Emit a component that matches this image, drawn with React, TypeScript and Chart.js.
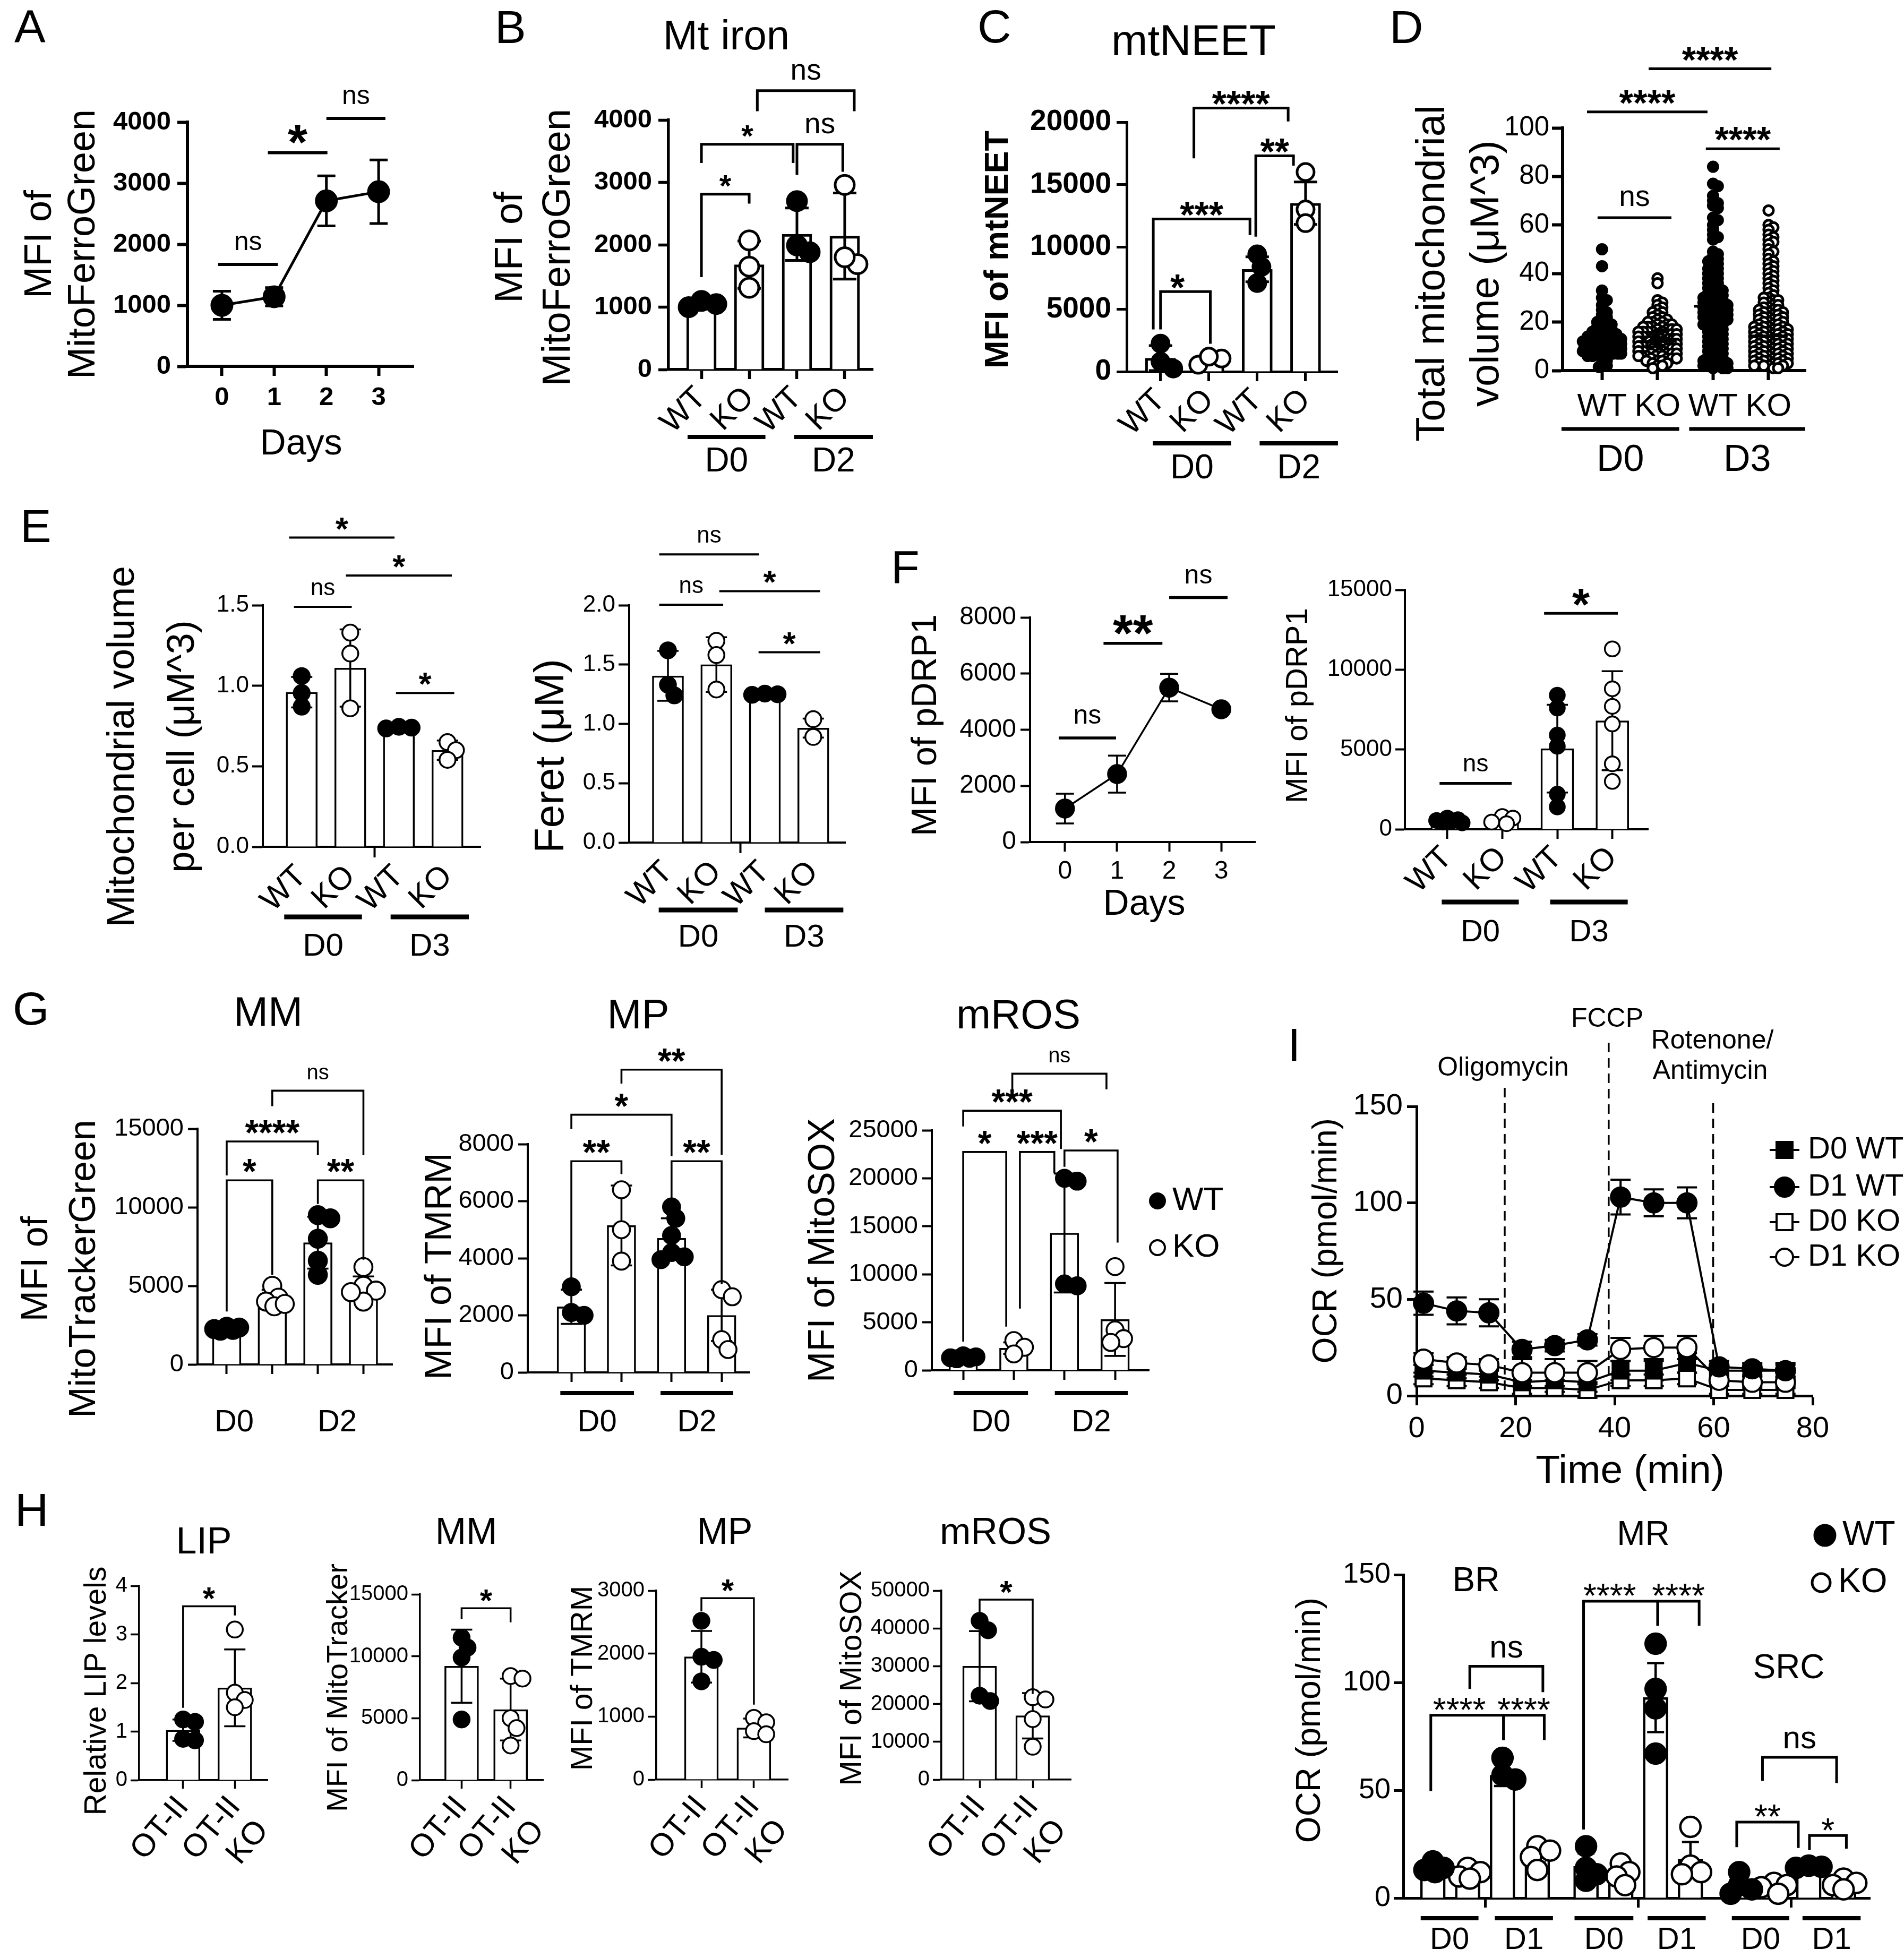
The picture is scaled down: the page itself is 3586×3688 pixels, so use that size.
import React, { useEffect, useRef } from 'react';
import { Chart, registerables } from 'chart.js';

Chart.register(...registerables);

const FONT = '"Liberation Sans", Arial, Helvetica, sans-serif';
Chart.defaults.font.family = FONT;
Chart.defaults.color = '#000';

const PAGE_W = 3586;
const PAGE_H = 3688;

/* ======================= data ======================= */
const WTKO = ['WT', 'KO', 'WT', 'KO'];
const FILL4 = [true, false, true, false];
const POS4 = [0, 1, 2, 3];
const NOLAB = ['', '', '', ''];

// A - MitoFerroGreen over days
const A_DAYS = [0, 1, 2, 3];
const A_MEAN = [1000, 1140, 2710, 2860];
const A_ERR = [230, 150, 410, 520];

// B - Mt iron
const B_MEAN = [1040, 1680, 2170, 2140];
const B_ERR = [70, 380, 420, 690];
const B_PTS = [[1000, 1050, 1100], [2070, 1650, 1310], [2700, 1880, 1990], [2960, 1690, 1800]];

// C - mtNEET
const C_MEAN = [1080, 950, 8200, 13500];
const C_ERR = [1000, 300, 1000, 1700];
const C_PTS = [[2250, 800, 250], [550, 1050, 1200], [9400, 8400, 7100], [16000, 13000, 11900]];

// D - total mitochondrial volume per cell
const D_WT0 = [50, 43, 33, 30, 29, 27, 25, 24, 23, 22, 21, 20, 20, 19, 19, 18, 18, 17, 17, 16, 16, 16, 15, 15, 15, 14, 14, 14, 14, 13, 13, 13, 13, 12, 12, 12, 12, 12, 11, 11, 11, 11, 11, 11, 10, 10, 10, 10, 10, 10, 9, 9, 9, 9, 9, 9, 8, 8, 8, 8, 8, 8, 7, 7, 7, 7, 7, 6, 6, 6, 5, 4, 3, 2, 1.5];
const D_KO0 = [38, 36, 29, 28, 27, 26, 25, 24, 24, 23, 22, 22, 21, 21, 20, 20, 20, 19, 19, 19, 18, 18, 18, 18, 17, 17, 17, 17, 16, 16, 16, 16, 16, 15, 15, 15, 15, 15, 14, 14, 14, 14, 14, 14, 13, 13, 13, 13, 13, 13, 12, 12, 12, 12, 12, 12, 12, 11, 11, 11, 11, 11, 11, 11, 10, 10, 10, 10, 10, 10, 10, 9, 9, 9, 9, 9, 9, 8, 8, 8, 8, 8, 8, 7, 7, 7, 7, 7, 6, 6, 6, 6, 6, 5, 5, 5, 5, 4, 4, 4, 3, 3, 2, 2, 1];
const D_WT3 = [84, 77, 76, 72, 70, 69, 68, 67, 63, 62, 60, 58, 56, 55, 54, 49, 48, 47, 46, 45, 45, 44, 43, 42, 42, 41, 40, 40, 39, 38, 38, 37, 36, 36, 35, 34, 34, 33, 33, 32, 32, 31, 31, 30, 30, 30, 29, 29, 28, 28, 28, 27, 27, 27, 26, 26, 26, 25, 25, 25, 24, 24, 24, 23, 23, 23, 22, 22, 22, 21, 21, 21, 20, 20, 19, 19, 19, 18, 18, 17, 17, 16, 16, 15, 15, 14, 14, 13, 13, 12, 12, 11, 11, 10, 10, 9, 9, 8, 8, 7, 7, 6, 6, 5, 5, 4, 4, 4, 3, 3, 3, 2, 2, 2, 1, 1, 1];
const D_KO3 = [66, 60, 59, 58, 56, 55, 54, 53, 52, 50, 49, 48, 46, 45, 44, 43, 42, 41, 40, 39, 38, 37, 36, 35, 34, 33, 32, 31, 30, 30, 29, 29, 28, 28, 27, 27, 26, 26, 25, 25, 25, 24, 24, 24, 23, 23, 23, 22, 22, 22, 21, 21, 21, 20, 20, 20, 19, 19, 19, 18, 18, 18, 18, 17, 17, 17, 17, 16, 16, 16, 16, 15, 15, 15, 15, 14, 14, 14, 14, 13, 13, 13, 13, 12, 12, 12, 12, 11, 11, 11, 11, 10, 10, 10, 10, 9, 9, 9, 9, 8, 8, 8, 8, 7, 7, 7, 7, 6, 6, 6, 6, 5, 5, 5, 5, 4, 4, 4, 4, 3, 3, 3, 3, 2, 2, 2, 2, 1, 1];
const D_MEAN = [11, 12, 26.5, 14.3];

// E - mitochondrial volume per cell / Feret
const E1_MEAN = [0.96, 1.11, 0.74, 0.6];
const E1_ERR = [0.095, 0.24, 0.01, 0.06];
const E1_PTS = [[1.06, 0.955, 0.87], [1.33, 1.2, 0.86], [0.745, 0.74, 0.735], [0.65, 0.6, 0.54]];
const E2_MEAN = [1.405, 1.5, 1.25, 0.965];
const E2_ERR = [0.21, 0.23, 0.01, 0.08];
const E2_PTS = [[1.62, 1.33, 1.24], [1.7, 1.58, 1.29], [1.255, 1.25, 1.245], [1.04, 0.89]];
const E_TICKS = [0, 1, 1.5, 2, 3];
const E_LABELS = ['WT', 'KO', '', 'WT', 'KO'];

// F - pDRP1
const F1_DAYS = [0, 1, 2, 3];
const F1_MEAN = [1190, 2420, 5500, 4730];
const F1_ERR = [530, 660, 490, 0];
const F2_MEAN = [550, 520, 5050, 6800];
const F2_ERR = [100, 150, 2750, 3100];
const F2_PTS = [[700, 600, 500, 450, 400, 550], [800, 700, 350, 450], [8400, 7600, 5900, 5200, 2200, 1400], [11300, 8800, 7700, 6600, 4100, 3000]];

// G - MM / MP / mROS
const G1_MEAN = [2250, 4200, 7750, 4900];
const G1_ERR = [150, 550, 1650, 700];
const G1_PTS = [[2150, 2250, 2350, 2400, 2200], [5000, 4250, 4000, 3700, 3850], [9500, 9300, 8000, 6600, 5700], [6200, 5000, 4700, 4000, 4600]];
const G2_MEAN = [2300, 5150, 4700, 2000];
const G2_ERR = [600, 1400, 700, 900];
const G2_PTS = [[3000, 2100, 2000], [6400, 5000, 3900], [5800, 5400, 4800, 4200, 4050, 3950], [2900, 2650, 1150, 800]];
const G3_MEAN = [1300, 2300, 14300, 5300];
const G3_ERR = [150, 600, 6200, 3800];
const G3_PTS = [[1200, 1300, 1400, 1500, 1250], [3100, 2400, 1700], [20000, 19700, 9000, 8800], [10800, 4200, 3300, 2900]];

// H - OT-II vs OT-II KO
const H_LABELS = ['OT-II', ['OT-II', 'KO']];
const H_FILL = [true, false];
const H_POS = [0, 1];
const H1_MEAN = [1.03, 1.9];
const H1_ERR = [0.22, 0.79];
const H1_PTS = [[1.25, 1.2, 0.85, 0.82], [3.1, 1.8, 1.65, 1.5]];
const H2_MEAN = [9200, 5700];
const H2_ERR = [2950, 2500];
const H2_PTS = [[11500, 10700, 9900, 4900], [8400, 8200, 5000, 4200, 2800]];
const H3_MEAN = [1950, 820];
const H3_ERR = [410, 150];
const H3_PTS = [[2520, 1950, 1900, 1560], [980, 910, 770, 720]];
const H4_MEAN = [30000, 16900];
const H4_ERR = [9300, 6000];
const H4_PTS = [[42000, 39500, 22200, 20800], [21800, 21200, 16000, 8700]];

// I (top) - OCR time course
const I_TIME = [1.4, 8.1, 14.6, 21.3, 27.9, 34.5, 41.2, 47.9, 54.6, 61.1, 67.8, 74.5];
const I_D0WT = [13, 12, 11, 7, 8, 7, 13, 13, 17, 13, 13, 13];
const I_D0WT_E = [3, 3, 3, 6, 6, 5, 5, 5, 5, 3, 3, 3];
const I_D1WT = [48, 44, 43, 24, 26, 29, 103, 100, 100, 15, 14, 13];
const I_D1WT_E = [6, 7, 7, 4, 3, 3, 9, 7, 8, 3, 3, 4];
const I_D0KO = [9, 8, 7, 4, 4, 3, 8, 8, 9, 3, 3, 3];
const I_D0KO_E = [3, 3, 3, 4, 4, 4, 3, 3, 3, 2, 2, 2];
const I_D1KO = [19, 17, 16, 12, 12, 12, 24, 25, 25, 8, 7, 7];
const I_D1KO_E = [3, 3, 3, 7, 7, 6, 6, 6, 6, 3, 3, 3];
const I_INJECT = [17.8, 38.8, 59.9];
const I_XTICKS = [0, 20, 40, 60, 80];

// I (bottom) - BR / MR / SRC
const IB_POS = [0, 1, 2, 3, 4.4, 5.4, 6.4, 7.4, 8.8, 9.8, 10.8, 11.8];
const IB_MEAN = [14.7, 12.6, 57, 20, 14.7, 12, 93, 18, 6, 5, 14.7, 7];
const IB_ERR = [2, 2, 5, 3.5, 6, 4, 16, 8, 4, 2, 1, 3];
const IB_PTS = [[17, 14, 13, 12], [14, 12, 10, 9], [65, 57, 55], [24, 22, 19, 13], [24, 14, 11, 8], [16, 12, 10, 6], [118, 97, 88, 67], [33, 15, 12, 11], [12, 6, 4, 2], [7, 6, 5, 2], [15, 14.5, 14], [9, 7, 6, 4]];
const IB_FILL = [true, false, true, false, true, false, true, false, true, false, true, false];
const IB_TICKS = [1.5, 5.9, 10.3];

/* ======================= types ======================= */
type Txt = { t: string; x: number; y: number; f: number; b?: boolean; rot?: number; al?: CanvasTextAlign };
type Sig = { x1: number; x2: number; y: number; y1?: number; y2?: number; t: string; tx?: number };
type Grp = { x1: number; x2: number; t: string };
type Mk = { x: number; y: number; r: number; fill: boolean; sq?: boolean; line?: number };
type Series = { x: number[]; y: number[]; err?: number[]; fill: boolean; sq: boolean; r: number; lw: number; cap: number; order: number };

interface Spec {
  rect: number[]; plot: number[]; axisW: number;
  yMax: number; yStep: number; yDec?: number; yFs: number; yBold?: boolean; yTl: number; yPad: number;
  xMin: number; xMax: number; xTicks: number[]; xLabels?: (string | string[])[]; xMarks?: number[];
  xFs?: number; xBold?: boolean; xRot?: number; xTl: number; xPad?: number;
  bars?: { pos: number[]; mean: number[]; err: number[]; w: number; lw: number; cap: number };
  pts?: { pos: number[]; vals: number[][]; fill: boolean[]; r: number; lw: number; sep: number; maxW: number; step: number };
  means?: { pos: number[]; vals: number[]; hw: number; lw: number };
  series?: Series[];
  sigs?: Sig[]; sigFs?: number; starFs?: number; starBold?: boolean; sigLw?: number; gap?: number;
  grps?: Grp[]; grpY?: number; grpLY?: number; grpFs?: number; grpLw?: number;
  texts?: Txt[]; marks?: Mk[]; mkLw?: number;
  vlines?: { x: number; top: number }[];
}

/* ======================= helpers ======================= */
function swarm(vals: number[], pxY: number, sep: number, maxW: number, step: number): number[] {
  const idx = vals.map((_, i) => i).sort((a, b) => vals[b] - vals[a]);
  const placed: { x: number; y: number }[] = [];
  const out = new Array(vals.length).fill(0);
  const nK = Math.floor(maxW / step) * 2;
  for (const i of idx) {
    const y = vals[i] * pxY;
    let best = 0;
    let bestScore = -1;
    for (let k = 0; k <= nK; k++) {
      const off = (k % 2 === 1 ? 1 : -1) * Math.ceil(k / 2) * step;
      let md = Infinity;
      for (const p of placed) {
        const d = Math.hypot(p.x - off, p.y - y);
        if (d < md) md = d;
      }
      if (md >= sep) { best = off; bestScore = Infinity; break; }
      if (md > bestScore + 0.5) { bestScore = md; best = off; }
    }
    placed.push({ x: best, y });
    out[i] = best;
  }
  return out;
}

function errBars(ctx: CanvasRenderingContext2D, xs: any, ys: any, xv: number[], yv: number[], ev: number[], cap: number, lw: number) {
  ctx.save();
  ctx.strokeStyle = '#000';
  ctx.lineWidth = lw;
  ctx.lineCap = 'butt';
  xv.forEach((x, i) => {
    const e = ev[i];
    if (!e) return;
    const X = xs.getPixelForValue(x);
    const Y1 = ys.getPixelForValue(yv[i] + e);
    const Y2 = ys.getPixelForValue(yv[i] - e);
    ctx.beginPath();
    ctx.moveTo(X, Y1); ctx.lineTo(X, Y2);
    ctx.moveTo(X - cap, Y1); ctx.lineTo(X + cap, Y1);
    ctx.moveTo(X - cap, Y2); ctx.lineTo(X + cap, Y2);
    ctx.stroke();
  });
  ctx.restore();
}

function drawText(ctx: CanvasRenderingContext2D, t: Txt, ox: number, oy: number) {
  ctx.save();
  ctx.font = `${t.b ? 'bold ' : ''}${t.f}px ${FONT}`;
  ctx.fillStyle = '#000';
  ctx.textAlign = t.al || 'center';
  ctx.textBaseline = 'middle';
  ctx.translate(t.x - ox, t.y - oy);
  if (t.rot) ctx.rotate((t.rot * Math.PI) / 180);
  ctx.fillText(t.t, 0, 0);
  ctx.restore();
}

function deco(S: Spec) {
  const cx = S.rect[0];
  const cy = S.rect[1];
  return {
    id: 'deco',
    beforeDatasetsDraw(chart: any) {
      const ctx: CanvasRenderingContext2D = chart.ctx;
      const xs = chart.scales.x;
      const ys = chart.scales.y;
      if (S.vlines) {
        ctx.save();
        ctx.setLineDash([18, 11]);
        ctx.lineWidth = 3.5;
        ctx.strokeStyle = '#000';
        S.vlines.forEach((v) => {
          const X = xs.getPixelForValue(v.x);
          ctx.beginPath();
          ctx.moveTo(X, v.top - cy);
          ctx.lineTo(X, chart.chartArea.bottom);
          ctx.stroke();
        });
        ctx.restore();
      }
      if (S.series) S.series.forEach((s) => { if (s.err) errBars(ctx, xs, ys, s.x, s.y, s.err, s.cap, s.lw); });
    },
    afterDatasetDraw(chart: any, args: any) {
      if (S.bars && args.meta.type === 'bar') {
        errBars(chart.ctx, chart.scales.x, chart.scales.y, S.bars.pos, S.bars.mean, S.bars.err, S.bars.cap, S.bars.lw);
      }
    },
    afterDraw(chart: any) {
      const ctx: CanvasRenderingContext2D = chart.ctx;
      const xs = chart.scales.x;
      const ys = chart.scales.y;
      ctx.save();
      ctx.fillStyle = '#000';
      ctx.strokeStyle = '#000';
      if (S.means) {
        const M = S.means;
        M.vals.forEach((v, i) => {
          const X = xs.getPixelForValue(M.pos[i]);
          const Y = ys.getPixelForValue(v);
          ctx.fillRect(X - M.hw, Y - M.lw / 2, 2 * M.hw, M.lw);
        });
      }
      if (S.sigs) {
        const lw = S.sigLw || 4;
        const gap = S.gap ?? 20;
        S.sigs.forEach((s) => {
          const X1 = xs.getPixelForValue(s.x1);
          const X2 = xs.getPixelForValue(s.x2);
          const Y = ys.getPixelForValue(s.y);
          ctx.beginPath();
          ctx.lineWidth = lw;
          ctx.lineCap = 'butt';
          ctx.lineJoin = 'miter';
          if (s.y1 !== undefined && s.y2 !== undefined) {
            ctx.moveTo(X1, ys.getPixelForValue(s.y1));
            ctx.lineTo(X1, Y);
            ctx.lineTo(X2, Y);
            ctx.lineTo(X2, ys.getPixelForValue(s.y2));
          } else {
            ctx.moveTo(X1, Y);
            ctx.lineTo(X2, Y);
          }
          ctx.stroke();
          const star = /^\*+$/.test(s.t);
          const bold = star && S.starBold !== false;
          const f = star ? (S.starFs || 60) : (S.sigFs || 50);
          ctx.font = `${bold ? 'bold ' : ''}${f}px ${FONT}`;
          ctx.textAlign = 'center';
          ctx.textBaseline = 'alphabetic';
          const TX = xs.getPixelForValue(s.tx ?? (s.x1 + s.x2) / 2);
          const base = star ? Y - lw / 2 - gap + (bold ? 0.42 : 0.45) * f : Y - lw / 2 - gap;
          ctx.fillText(s.t, TX, base);
        });
      }
      if (S.grps) {
        const lw = S.grpLw || 8;
        S.grps.forEach((g) => {
          const X1 = xs.getPixelForValue(g.x1);
          const X2 = xs.getPixelForValue(g.x2);
          ctx.fillRect(X1, (S.grpY as number) - cy - lw / 2, X2 - X1, lw);
          drawText(ctx, { t: g.t, x: (X1 + X2) / 2 + cx, y: S.grpLY as number, f: S.grpFs || 60 }, cx, cy);
        });
      }
      if (S.marks) {
        const lw = S.mkLw || 4;
        S.marks.forEach((m) => {
          const X = m.x - cx;
          const Y = m.y - cy;
          ctx.lineWidth = lw;
          if (m.line) {
            ctx.beginPath();
            ctx.moveTo(X - m.line, Y);
            ctx.lineTo(X + m.line, Y);
            ctx.stroke();
          }
          ctx.beginPath();
          if (m.sq) ctx.rect(X - m.r, Y - m.r, 2 * m.r, 2 * m.r);
          else ctx.arc(X, Y, m.r, 0, Math.PI * 2);
          ctx.fillStyle = m.fill ? '#000' : '#fff';
          ctx.fill();
          ctx.stroke();
          ctx.fillStyle = '#000';
        });
      }
      if (S.texts) S.texts.forEach((t) => drawText(ctx, t, cx, cy));
      ctx.restore();
    },
  };
}

function buildConfig(S: Spec): any {
  const [cx, cy, cw, ch] = S.rect;
  const [L, T, R, B] = S.plot;
  const pxX = (R - L) / (S.xMax - S.xMin);
  const pxY = (B - T) / S.yMax;
  const yBoxW = L - cx;
  const xBoxH = cy + ch - B;
  const ds: any[] = [];
  if (S.series) {
    S.series.forEach((s) => ds.push({
      type: 'line',
      data: s.x.map((x, i) => ({ x, y: s.y[i] })),
      borderColor: '#000', borderWidth: s.lw,
      pointStyle: s.sq ? 'rect' : 'circle', pointRadius: s.r, pointHoverRadius: s.r,
      pointBackgroundColor: s.fill ? '#000' : '#fff', pointBorderColor: '#000', pointBorderWidth: s.lw,
      tension: 0, fill: false, clip: false, order: s.order,
    }));
  }
  if (S.pts) {
    const P = S.pts;
    P.vals.forEach((vs, gi) => {
      const offs = swarm(vs, pxY, P.sep, P.maxW, P.step);
      ds.push({
        type: 'scatter',
        data: vs.map((v, k) => ({ x: P.pos[gi] + offs[k] / pxX, y: v })),
        pointStyle: 'circle', pointRadius: P.r, pointHoverRadius: P.r,
        pointBackgroundColor: P.fill[gi] ? '#000' : '#fff', pointBorderColor: '#000', pointBorderWidth: P.lw,
        showLine: false, clip: false, order: 1,
      });
    });
  }
  if (S.bars) {
    const Bs = S.bars;
    ds.push({
      type: 'bar',
      data: Bs.pos.map((p, i) => ({ x: p, y: Bs.mean[i] })),
      backgroundColor: '#fff', borderColor: '#000', borderWidth: Bs.lw,
      barThickness: Bs.w, borderSkipped: 'start', grouped: false, order: 10,
    });
  }
  const marks = S.xMarks ?? S.xTicks;
  const labels = S.xLabels ?? [];
  const font = (size: number, bold?: boolean) => ({ family: FONT, size, weight: bold ? 'bold' : 'normal', lineHeight: 1.15 });
  return {
    type: 'scatter',
    data: { datasets: ds },
    options: {
      responsive: false, maintainAspectRatio: false, animation: false, devicePixelRatio: 1, events: [],
      layout: { padding: { left: 0, top: T - cy, right: cx + cw - R, bottom: 0 } },
      plugins: { legend: { display: false }, tooltip: { enabled: false }, title: { display: false } },
      scales: {
        x: {
          type: 'linear', min: S.xMin, max: S.xMax, bounds: 'data', offset: false, z: 1,
          afterFit: (s: any) => { s.height = xBoxH; },
          afterBuildTicks: (s: any) => { s.ticks = S.xTicks.map((v) => ({ value: v })); },
          ticks: {
            autoSkip: false, maxRotation: S.xRot || 0, minRotation: S.xRot || 0, padding: S.xPad ?? 6,
            color: '#000', font: font(S.xFs || 50, S.xBold),
            callback: (_v: any, i: number) => (labels[i] ?? ''),
          },
          grid: {
            display: true, drawOnChartArea: false, drawTicks: true, offset: false,
            tickLength: S.xTl, tickWidth: S.axisW,
            tickColor: (c: any) => (c.tick && marks.indexOf(c.tick.value) >= 0 ? '#000' : 'rgba(0,0,0,0)'),
          },
          border: { display: true, width: S.axisW, color: '#000' },
        },
        y: {
          type: 'linear', min: 0, max: S.yMax, bounds: 'data', z: 1,
          afterFit: (s: any) => { s.width = yBoxW; },
          ticks: {
            stepSize: S.yStep, padding: S.yPad, color: '#000', font: font(S.yFs, S.yBold),
            callback: (v: any) => (S.yDec ? Number(v).toFixed(S.yDec) : String(Math.round(Number(v)))),
          },
          grid: { display: true, drawOnChartArea: false, drawTicks: true, tickLength: S.yTl, tickWidth: S.axisW, tickColor: '#000' },
          border: { display: true, width: S.axisW, color: '#000' },
        },
      },
    },
    plugins: [deco(S)],
  };
}

/* ======================= panel specs ======================= */
const ytitle = (t: string, x: number, y: number, f: number, b?: boolean): Txt => ({ t, x, y, f, b, rot: -90 });
const letter = (t: string, x: number, y: number): Txt => ({ t, x, y, f: 88, al: 'left' });

const SPECS: Spec[] = [
  // ---------- A ----------
  {
    rect: [0, 0, 850, 900], plot: [353, 230, 779, 690], axisW: 6,
    yMax: 4000, yStep: 1000, yFs: 49, yBold: true, yTl: 19, yPad: 12,
    xMin: -0.66, xMax: 3.67, xTicks: A_DAYS, xLabels: A_DAYS.map(String), xFs: 49, xBold: true, xRot: 0, xTl: 18, xPad: 13,
    series: [{ x: A_DAYS, y: A_MEAN, err: A_ERR, fill: true, sq: false, r: 19, lw: 5, cap: 17, order: 0 }],
    sigs: [
      { x1: -0.07, x2: 1.07, y: 1670, t: 'ns' },
      { x1: 0.88, x2: 2.02, y: 3500, t: '*' },
      { x1: 2.0, x2: 3.13, y: 4060, t: 'ns' },
    ],
    sigFs: 50, starFs: 95, sigLw: 6, gap: 24,
    texts: [letter('A', 27, 56), ytitle('MFI of', 76, 460, 72), ytitle('MitoFerroGreen', 158, 460, 72), { t: 'Days', x: 567, y: 837, f: 68 }],
  },
  // ---------- B ----------
  {
    rect: [880, 0, 860, 920], plot: [1259, 226, 1644, 696], axisW: 5.5,
    yMax: 4000, yStep: 1000, yFs: 49, yBold: true, yTl: 19, yPad: 12,
    xMin: -0.69, xMax: 3.59, xTicks: POS4, xLabels: WTKO, xFs: 60, xRot: 45, xTl: 18, xPad: 2,
    bars: { pos: POS4, mean: B_MEAN, err: B_ERR, w: 56, lw: 5, cap: 22 },
    pts: { pos: POS4, vals: B_PTS, fill: FILL4, r: 18, lw: 5, sep: 26, maxW: 28, step: 4 },
    sigs: [
      { x1: 0, x2: 1, y: 2810, y1: 1480, y2: 2660, t: '*' },
      { x1: 0, x2: 1.92, y: 3610, y1: 3310, y2: 3310, t: '*' },
      { x1: 2.0, x2: 2.96, y: 3610, y1: 3120, y2: 3170, t: 'ns' },
      { x1: 1.17, x2: 3.2, y: 4470, y1: 4140, y2: 4140, t: 'ns' },
    ],
    sigFs: 55, starFs: 58, sigLw: 5, gap: 18,
    grps: [{ x1: -0.29, x2: 1.34, t: 'D0' }, { x1: 1.94, x2: 3.59, t: 'D2' }], grpY: 823, grpLY: 870, grpFs: 64, grpLw: 8,
    texts: [letter('B', 932, 57), { t: 'Mt iron', x: 1368, y: 71, f: 78 }, ytitle('MFI of', 963, 466, 74), ytitle('MitoFerroGreen', 1053, 466, 74)],
  },
  // ---------- C ----------
  {
    rect: [1740, 0, 830, 940], plot: [2122, 230, 2519, 700], axisW: 5,
    yMax: 20000, yStep: 5000, yFs: 55, yBold: true, yTl: 19, yPad: 10,
    xMin: -0.70, xMax: 3.66, xTicks: POS4, xLabels: WTKO, xFs: 60, xRot: 45, xTl: 18, xPad: 2,
    bars: { pos: POS4, mean: C_MEAN, err: C_ERR, w: 57, lw: 5, cap: 22 },
    pts: { pos: POS4, vals: C_PTS, fill: FILL4, r: 16, lw: 5, sep: 24, maxW: 28, step: 4 },
    sigs: [
      { x1: 0, x2: 1.03, y: 6410, y1: 3385, y2: 2230, t: '*', tx: 0.35 },
      { x1: -0.15, x2: 1.85, y: 12230, y1: 3385, y2: 10950, t: '***' },
      { x1: 1.97, x2: 2.75, y: 17300, y1: 10820, y2: 16510, t: '**' },
      { x1: 0.69, x2: 2.64, y: 21130, y1: 17100, y2: 20050, t: '****' },
    ],
    sigFs: 55, starFs: 70, sigLw: 5, gap: 10,
    grps: [{ x1: -0.16, x2: 1.46, t: 'D0' }, { x1: 2.05, x2: 3.67, t: 'D2' }], grpY: 835, grpLY: 883, grpFs: 64, grpLw: 8,
    texts: [letter('C', 1841, 56), { t: 'mtNEET', x: 2248, y: 81, f: 82 }, ytitle('MFI of mtNEET', 1881, 470, 63, true)],
  },
  // ---------- D ----------
  {
    rect: [2565, 0, 1021, 940], plot: [2943, 241, 3401, 698], axisW: 6,
    yMax: 100, yStep: 20, yFs: 51, yTl: 20, yPad: 5,
    xMin: -0.71, xMax: 3.67, xTicks: POS4, xLabels: WTKO, xFs: 60, xRot: 0, xTl: 18, xPad: 16,
    pts: { pos: POS4, vals: [D_WT0, D_KO0, D_WT3, D_KO3], fill: FILL4, r: 9, lw: 5, sep: 8, maxW: 36, step: 3 },
    means: { pos: POS4, vals: D_MEAN, hw: 36, lw: 5 },
    sigs: [
      { x1: -0.08, x2: 1.25, y: 63, t: 'ns' },
      { x1: -0.27, x2: 1.9, y: 106.6, t: '****' },
      { x1: 0.84, x2: 3.05, y: 124.4, t: '****' },
      { x1: 1.87, x2: 3.2, y: 91.4, t: '****' },
    ],
    sigFs: 55, starFs: 68, sigLw: 5, gap: 20,
    grps: [{ x1: -0.73, x2: 1.39, t: 'D0' }, { x1: 1.57, x2: 3.66, t: 'D3' }], grpY: 808, grpLY: 868, grpFs: 70, grpLw: 7,
    texts: [letter('D', 2617, 57), ytitle('Total mitochondrial', 2699, 515, 76), ytitle('volume (μM^3)', 2801, 515, 76)],
  },
  // ---------- E (left) ----------
  {
    rect: [0, 940, 940, 920], plot: [495, 1140, 905, 1595], axisW: 4,
    yMax: 1.5, yStep: 0.5, yDec: 1, yFs: 44, yTl: 20, yPad: 6,
    xMin: -0.80, xMax: 3.68, xTicks: E_TICKS, xLabels: E_LABELS, xMarks: [1.5], xFs: 60, xRot: 45, xTl: 20, xPad: 2,
    bars: { pos: POS4, mean: E1_MEAN, err: E1_ERR, w: 59, lw: 3.5, cap: 20 },
    pts: { pos: POS4, vals: E1_PTS, fill: FILL4, r: 15, lw: 3.5, sep: 22, maxW: 26, step: 4 },
    sigs: [
      { x1: -0.16, x2: 1.03, y: 1.49, t: 'ns' },
      { x1: -0.26, x2: 1.91, y: 1.92, t: '*' },
      { x1: 0.91, x2: 3.09, y: 1.685, t: '*' },
      { x1: 1.94, x2: 3.14, y: 0.955, t: '*' },
    ],
    sigFs: 44, starFs: 62, sigLw: 4, gap: 20,
    grps: [{ x1: -0.36, x2: 1.24, t: 'D0' }, { x1: 1.83, x2: 3.44, t: 'D3' }], grpY: 1727, grpLY: 1783, grpFs: 60, grpLw: 9,
    texts: [letter('E', 38, 997), ytitle('Mitochondrial volume', 232, 1406, 72), ytitle('per cell (μM^3)', 345, 1406, 72)],
  },
  // ---------- E (Feret) ----------
  {
    rect: [940, 940, 740, 920], plot: [1185, 1140, 1592, 1587], axisW: 4,
    yMax: 2, yStep: 0.5, yDec: 1, yFs: 44, yTl: 20, yPad: 6,
    xMin: -0.80, xMax: 3.66, xTicks: E_TICKS, xLabels: E_LABELS, xMarks: [1.5], xFs: 60, xRot: 45, xTl: 20, xPad: 2,
    bars: { pos: POS4, mean: E2_MEAN, err: E2_ERR, w: 59, lw: 3.5, cap: 20 },
    pts: { pos: POS4, vals: E2_PTS, fill: FILL4, r: 15, lw: 3.5, sep: 22, maxW: 26, step: 4 },
    sigs: [
      { x1: -0.18, x2: 1.88, y: 2.428, t: 'ns' },
      { x1: -0.18, x2: 1.14, y: 2.005, t: 'ns' },
      { x1: 1.06, x2: 3.14, y: 2.119, t: '*' },
      { x1: 1.87, x2: 3.14, y: 1.604, t: '*' },
    ],
    sigFs: 44, starFs: 62, sigLw: 4, gap: 20,
    grps: [{ x1: -0.19, x2: 1.44, t: 'D0' }, { x1: 2.0, x2: 3.62, t: 'D3' }], grpY: 1714, grpLY: 1766, grpFs: 60, grpLw: 9,
    texts: [ytitle('Feret (μM)', 1039, 1424, 78)],
  },
  // ---------- F (line) ----------
  {
    rect: [1660, 940, 740, 920], plot: [1940, 1163, 2364, 1586], axisW: 4,
    yMax: 8000, yStep: 2000, yFs: 48, yTl: 18, yPad: 8,
    xMin: -0.67, xMax: 3.65, xTicks: F1_DAYS, xLabels: F1_DAYS.map(String), xFs: 48, xRot: 0, xTl: 18, xPad: 10,
    series: [{ x: F1_DAYS, y: F1_MEAN, err: F1_ERR, fill: true, sq: false, r: 17, lw: 3.5, cap: 17, order: 0 }],
    sigs: [
      { x1: -0.12, x2: 0.98, y: 3705, t: 'ns' },
      { x1: 0.74, x2: 1.87, y: 7080, t: '**' },
      { x1: 2.0, x2: 3.12, y: 8708, t: 'ns' },
    ],
    sigFs: 50, starFs: 97, sigLw: 5.5, gap: 24,
    texts: [letter('F', 1678, 1074), ytitle('MFI of pDRP1', 1745, 1366, 66), { t: 'Days', x: 2155, y: 1704, f: 68 }],
  },
  // ---------- F (bars) ----------
  {
    rect: [2400, 940, 760, 920], plot: [2646, 1111, 3104, 1562], axisW: 4,
    yMax: 15000, yStep: 5000, yFs: 44, yTl: 18, yPad: 6,
    xMin: -0.77, xMax: 3.65, xTicks: POS4, xLabels: WTKO, xFs: 60, xRot: 45, xTl: 18, xPad: 2,
    bars: { pos: POS4, mean: F2_MEAN, err: F2_ERR, w: 62, lw: 3.5, cap: 20 },
    pts: { pos: POS4, vals: F2_PTS, fill: FILL4, r: 14, lw: 3.5, sep: 20, maxW: 28, step: 4 },
    sigs: [
      { x1: -0.14, x2: 1.17, y: 2880, t: 'ns' },
      { x1: 1.76, x2: 3.1, y: 13530, t: '*' },
    ],
    sigFs: 46, starFs: 85, sigLw: 5, gap: 20,
    grps: [{ x1: -0.1, x2: 1.3, t: 'D0' }, { x1: 1.87, x2: 3.28, t: 'D3' }], grpY: 1699, grpLY: 1757, grpFs: 58, grpLw: 9,
    texts: [ytitle('MFI of pDRP1', 2446, 1329, 58)],
  },
  // ---------- G MM ----------
  {
    rect: [0, 1860, 760, 915], plot: [372, 2126, 746, 2570], axisW: 4,
    yMax: 15000, yStep: 5000, yFs: 47, yTl: 18, yPad: 8,
    xMin: -0.64, xMax: 3.64, xTicks: POS4, xLabels: NOLAB, xTl: 18,
    bars: { pos: POS4, mean: G1_MEAN, err: G1_ERR, w: 54, lw: 3.6, cap: 20 },
    pts: { pos: POS4, vals: G1_PTS, fill: FILL4, r: 17, lw: 3.6, sep: 24, maxW: 26, step: 4 },
    sigs: [
      { x1: 0, x2: 1, y: 11713, y1: 3370, y2: 5710, t: '*' },
      { x1: 0, x2: 2, y: 14187, y1: 12024, y2: 13320, t: '****' },
      { x1: 2, x2: 3, y: 11713, y1: 10207, y2: 6660, t: '**' },
      { x1: 1, x2: 3, y: 17420, y1: 16436, y2: 13320, t: 'ns' },
    ],
    sigFs: 40, starFs: 66, sigLw: 3.6, gap: 20,
    texts: [
      letter('G', 24, 1906), { t: 'MM', x: 505, y: 1910, f: 78 },
      ytitle('MFI of', 70, 2390, 70), ytitle('MitoTrackerGreen', 160, 2390, 70),
      { t: 'D0', x: 441, y: 2680, f: 58 }, { t: 'D2', x: 635, y: 2680, f: 58 },
    ],
  },
  // ---------- G MP ----------
  {
    rect: [760, 1860, 720, 915], plot: [994, 2155, 1412, 2585], axisW: 4,
    yMax: 8000, yStep: 2000, yFs: 47, yTl: 18, yPad: 8,
    xMin: -0.87, xMax: 3.56, xTicks: POS4, xLabels: NOLAB, xTl: 18,
    bars: { pos: POS4, mean: G2_MEAN, err: G2_ERR, w: 54, lw: 3.6, cap: 20 },
    pts: { pos: POS4, vals: G2_PTS, fill: FILL4, r: 16, lw: 3.6, sep: 22, maxW: 26, step: 4 },
    sigs: [
      { x1: 0, x2: 1, y: 7400, y1: 3300, y2: 6950, t: '**' },
      { x1: 0, x2: 2, y: 9030, y1: 8530, y2: 7580, t: '*' },
      { x1: 2, x2: 3, y: 7400, y1: 6100, y2: 3100, t: '**' },
      { x1: 1, x2: 3, y: 10610, y1: 10120, y2: 7630, t: '**' },
    ],
    sigFs: 40, starFs: 66, sigLw: 3.6, gap: 20,
    grps: [{ x1: -0.22, x2: 1.25, t: 'D0' }, { x1: 1.78, x2: 3.23, t: 'D2' }], grpY: 2624, grpLY: 2680, grpFs: 58, grpLw: 8,
    texts: [{ t: 'MP', x: 1202, y: 1915, f: 78 }, ytitle('MFI of TMRM', 830, 2385, 70)],
  },
  // ---------- G mROS ----------
  {
    rect: [1480, 1860, 1000, 915], plot: [1755, 2129, 2164, 2581], axisW: 4,
    yMax: 25000, yStep: 5000, yFs: 47, yTl: 18, yPad: 8,
    xMin: -0.62, xMax: 3.67, xTicks: POS4, xLabels: NOLAB, xTl: 18,
    bars: { pos: POS4, mean: G3_MEAN, err: G3_ERR, w: 54, lw: 3.6, cap: 20 },
    pts: { pos: POS4, vals: G3_PTS, fill: FILL4, r: 16, lw: 3.6, sep: 22, maxW: 26, step: 4 },
    sigs: [
      { x1: 0, x2: 0.85, y: 22740, y1: 2980, y2: 4550, t: '*' },
      { x1: 0, x2: 1.93, y: 27040, y1: 25400, y2: 23050, t: '***' },
      { x1: 1.12, x2: 1.8, y: 22740, y1: 6430, y2: 20550, t: '***' },
      { x1: 2.0, x2: 3.05, y: 22900, y1: 21200, y2: 13300, t: '*' },
      { x1: 0.97, x2: 2.83, y: 30900, y1: 28400, y2: 29270, t: 'ns' },
    ],
    sigFs: 40, starFs: 66, sigLw: 3.6, gap: 20,
    grps: [{ x1: -0.19, x2: 1.28, t: 'D0' }, { x1: 1.81, x2: 3.25, t: 'D2' }], grpY: 2624, grpLY: 2680, grpFs: 58, grpLw: 8,
    marks: [{ x: 2180, y: 2262, r: 14, fill: true }, { x: 2180, y: 2350, r: 14, fill: false }], mkLw: 4,
    texts: [
      { t: 'mROS', x: 1918, y: 1915, f: 78 }, ytitle('MFI of MitoSOX', 1552, 2355, 70),
      { t: 'WT', x: 2208, y: 2262, f: 62, al: 'left' }, { t: 'KO', x: 2208, y: 2350, f: 62, al: 'left' },
    ],
  },
  // ---------- H LIP ----------
  {
    rect: [0, 2775, 560, 913], plot: [262, 2987, 521, 3353], axisW: 3.5,
    yMax: 4, yStep: 1, yFs: 40, yTl: 16, yPad: 6,
    xMin: -0.85, xMax: 1.64, xTicks: H_POS, xLabels: H_LABELS, xFs: 60, xRot: 50, xTl: 16, xPad: 2,
    bars: { pos: H_POS, mean: H1_MEAN, err: H1_ERR, w: 64, lw: 3.5, cap: 20 },
    pts: { pos: H_POS, vals: H1_PTS, fill: H_FILL, r: 15, lw: 3.5, sep: 22, maxW: 26, step: 4 },
    sigs: [{ x1: 0, x2: 1, y: 3.58, y1: 1.49, y2: 3.39, t: '*' }],
    sigFs: 45, starFs: 60, sigLw: 3.5, gap: 18,
    texts: [letter('H', 28, 2850), { t: 'LIP', x: 384, y: 2907, f: 70 }, ytitle('Relative LIP levels', 183, 3185, 57)],
  },
  // ---------- H MM ----------
  {
    rect: [560, 2775, 520, 913], plot: [791, 3003, 1040, 3353], axisW: 3.5,
    yMax: 15000, yStep: 5000, yFs: 40, yTl: 16, yPad: 6,
    xMin: -0.85, xMax: 1.67, xTicks: H_POS, xLabels: H_LABELS, xFs: 60, xRot: 50, xTl: 16, xPad: 2,
    bars: { pos: H_POS, mean: H2_MEAN, err: H2_ERR, w: 64, lw: 3.5, cap: 20 },
    pts: { pos: H_POS, vals: H2_PTS, fill: H_FILL, r: 15, lw: 3.5, sep: 22, maxW: 26, step: 4 },
    sigs: [{ x1: 0, x2: 1, y: 13880, y1: 13000, y2: 12740, t: '*' }],
    sigFs: 45, starFs: 60, sigLw: 3.5, gap: 18,
    texts: [{ t: 'MM', x: 878, y: 2889, f: 70 }, ytitle('MFI of MitoTracker', 639, 3179, 56)],
  },
  // ---------- H MP ----------
  {
    rect: [1045, 2775, 495, 913], plot: [1236, 2996, 1492, 3352], axisW: 3.5,
    yMax: 3000, yStep: 1000, yFs: 40, yTl: 16, yPad: 6,
    xMin: -0.86, xMax: 1.65, xTicks: H_POS, xLabels: H_LABELS, xFs: 60, xRot: 50, xTl: 16, xPad: 2,
    bars: { pos: H_POS, mean: H3_MEAN, err: H3_ERR, w: 64, lw: 3.5, cap: 20 },
    pts: { pos: H_POS, vals: H3_PTS, fill: H_FILL, r: 15, lw: 3.5, sep: 22, maxW: 26, step: 4 },
    sigs: [{ x1: 0, x2: 1, y: 2880, y1: 2670, y2: 1190, t: '*' }],
    sigFs: 45, starFs: 60, sigLw: 3.5, gap: 18,
    texts: [{ t: 'MP', x: 1365, y: 2889, f: 70 }, ytitle('MFI of TMRM', 1099, 3161, 57)],
  },
  // ---------- H mROS ----------
  {
    rect: [1540, 2775, 560, 913], plot: [1773, 2996, 2017, 3352], axisW: 3.5,
    yMax: 50000, yStep: 10000, yFs: 40, yTl: 16, yPad: 6,
    xMin: -0.72, xMax: 1.72, xTicks: H_POS, xLabels: H_LABELS, xFs: 60, xRot: 50, xTl: 16, xPad: 2,
    bars: { pos: H_POS, mean: H4_MEAN, err: H4_ERR, w: 64, lw: 3.5, cap: 20 },
    pts: { pos: H_POS, vals: H4_PTS, fill: H_FILL, r: 15, lw: 3.5, sep: 22, maxW: 26, step: 4 },
    sigs: [{ x1: 0, x2: 1, y: 47600, y1: 41600, y2: 22650, t: '*' }],
    sigFs: 45, starFs: 60, sigLw: 3.5, gap: 18,
    texts: [{ t: 'mROS', x: 1875, y: 2889, f: 70 }, ytitle('MFI of MitoSOX', 1606, 3161, 57)],
  },
  // ---------- I (time course) ----------
  {
    rect: [2375, 1860, 1211, 985], plot: [2668, 2084, 3414, 2629], axisW: 5,
    yMax: 150, yStep: 50, yFs: 56, yTl: 18, yPad: 8,
    xMin: 0, xMax: 80, xTicks: I_XTICKS, xLabels: I_XTICKS.map(String), xFs: 56, xRot: 0, xTl: 18, xPad: 12,
    series: [
      { x: I_TIME, y: I_D1WT, err: I_D1WT_E, fill: true, sq: false, r: 18, lw: 4, cap: 19, order: 0 },
      { x: I_TIME, y: I_D1KO, err: I_D1KO_E, fill: false, sq: false, r: 18, lw: 4, cap: 19, order: 1 },
      { x: I_TIME, y: I_D0WT, err: I_D0WT_E, fill: true, sq: true, r: 21, lw: 4, cap: 19, order: 2 },
      { x: I_TIME, y: I_D0KO, err: I_D0KO_E, fill: false, sq: true, r: 21, lw: 4, cap: 19, order: 3 },
    ],
    vlines: [{ x: I_INJECT[0], top: 2049 }, { x: I_INJECT[1], top: 1964 }, { x: I_INJECT[2], top: 2078 }],
    marks: [
      { x: 3361, y: 2166, r: 15, fill: true, sq: true, line: 28 },
      { x: 3361, y: 2236, r: 18, fill: true, line: 28 },
      { x: 3361, y: 2302, r: 15, fill: false, sq: true, line: 28 },
      { x: 3361, y: 2368, r: 16, fill: false, line: 28 },
    ],
    mkLw: 4,
    texts: [
      letter('I', 2425, 1974),
      { t: 'Oligomycin', x: 2831, y: 2012, f: 50 }, { t: 'FCCP', x: 3027, y: 1920, f: 50 },
      { t: 'Rotenone/', x: 3225, y: 1961, f: 50 }, { t: 'Antimycin', x: 3221, y: 2018, f: 50 },
      ytitle('OCR (pmol/min)', 2499, 2337, 64), { t: 'Time (min)', x: 3070, y: 2772, f: 75 },
      { t: 'D0 WT', x: 3405, y: 2166, f: 58, al: 'left' }, { t: 'D1 WT', x: 3405, y: 2236, f: 58, al: 'left' },
      { t: 'D0 KO', x: 3405, y: 2302, f: 58, al: 'left' }, { t: 'D1 KO', x: 3405, y: 2368, f: 58, al: 'left' },
    ],
  },
  // ---------- I (BR / MR / SRC) ----------
  {
    rect: [2375, 2845, 1211, 843], plot: [2643, 2966, 3522, 3575], axisW: 5,
    yMax: 150, yStep: 50, yFs: 54, yTl: 18, yPad: 6,
    xMin: -0.85, xMax: 12.56, xTicks: IB_TICKS, xLabels: ['', '', ''], xTl: 18,
    bars: { pos: IB_POS, mean: IB_MEAN, err: IB_ERR, w: 47, lw: 4.5, cap: 16 },
    pts: { pos: IB_POS, vals: IB_PTS, fill: IB_FILL, r: 19, lw: 4.5, sep: 22, maxW: 24, step: 4 },
    sigs: [
      { x1: -0.06, x2: 2.03, y: 84.8, y1: 49.6, y2: 73.3, t: '****', tx: 0.76 },
      { x1: 2.03, x2: 3.2, y: 84.8, y1: 73.3, y2: 73.3, t: '****' },
      { x1: 1.06, x2: 3.16, y: 107.5, y1: 97, y2: 95.5, t: 'ns' },
      { x1: 4.33, x2: 6.46, y: 137.7, y1: 31.8, y2: 126.3, t: '****', tx: 5.08 },
      { x1: 6.46, x2: 7.65, y: 137.7, y1: 126.3, y2: 126.3, t: '****' },
      { x1: 8.73, x2: 10.5, y: 35.2, y1: 23.6, y2: 23.2, t: '**' },
      { x1: 10.82, x2: 11.88, y: 29, y1: 22.2, y2: 22.9, t: '*' },
      { x1: 9.47, x2: 11.6, y: 65.3, y1: 54.4, y2: 53.3, t: 'ns' },
    ],
    sigFs: 60, starFs: 64, starBold: false, sigLw: 5, gap: 14,
    grps: [
      { x1: -0.35, x2: 1.31, t: 'D0' }, { x1: 1.78, x2: 3.45, t: 'D1' },
      { x1: 4.07, x2: 5.76, t: 'D0' }, { x1: 6.17, x2: 7.84, t: 'D1' },
      { x1: 8.59, x2: 10.24, t: 'D0' }, { x1: 10.62, x2: 12.29, t: 'D1' },
    ],
    grpY: 3613, grpLY: 3655, grpFs: 58, grpLw: 8,
    marks: [{ x: 3437, y: 2892, r: 19, fill: true }, { x: 3430, y: 2981, r: 17, fill: false }], mkLw: 5,
    texts: [
      { t: 'BR', x: 2780, y: 2979, f: 64 }, { t: 'MR', x: 3095, y: 2892, f: 64 }, { t: 'SRC', x: 3369, y: 3143, f: 64 },
      ytitle('OCR (pmol/min)', 2468, 3240, 64),
      { t: 'WT', x: 3470, y: 2892, f: 64, al: 'left' }, { t: 'KO', x: 3462, y: 2981, f: 64, al: 'left' },
    ],
  },
];

/* ======================= components ======================= */
function Panel({ spec }: { spec: Spec }) {
  const ref = useRef<HTMLCanvasElement | null>(null);
  useEffect(() => {
    if (!ref.current) return;
    const chart = new Chart(ref.current, buildConfig(spec));
    return () => chart.destroy();
  }, [spec]);
  const [x, y, w, h] = spec.rect;
  return (
    <canvas
      ref={ref}
      width={w}
      height={h}
      style={{ position: 'absolute', left: x, top: y, width: w, height: h }}
    />
  );
}

export default function App() {
  return (
    <div style={{ position: 'relative', width: PAGE_W, height: PAGE_H, background: '#fff', overflow: 'hidden' }}>
      <style>{'html,body{margin:0;padding:0;background:#fff;}'}</style>
      {SPECS.map((s, i) => (
        <Panel key={i} spec={s} />
      ))}
    </div>
  );
}
